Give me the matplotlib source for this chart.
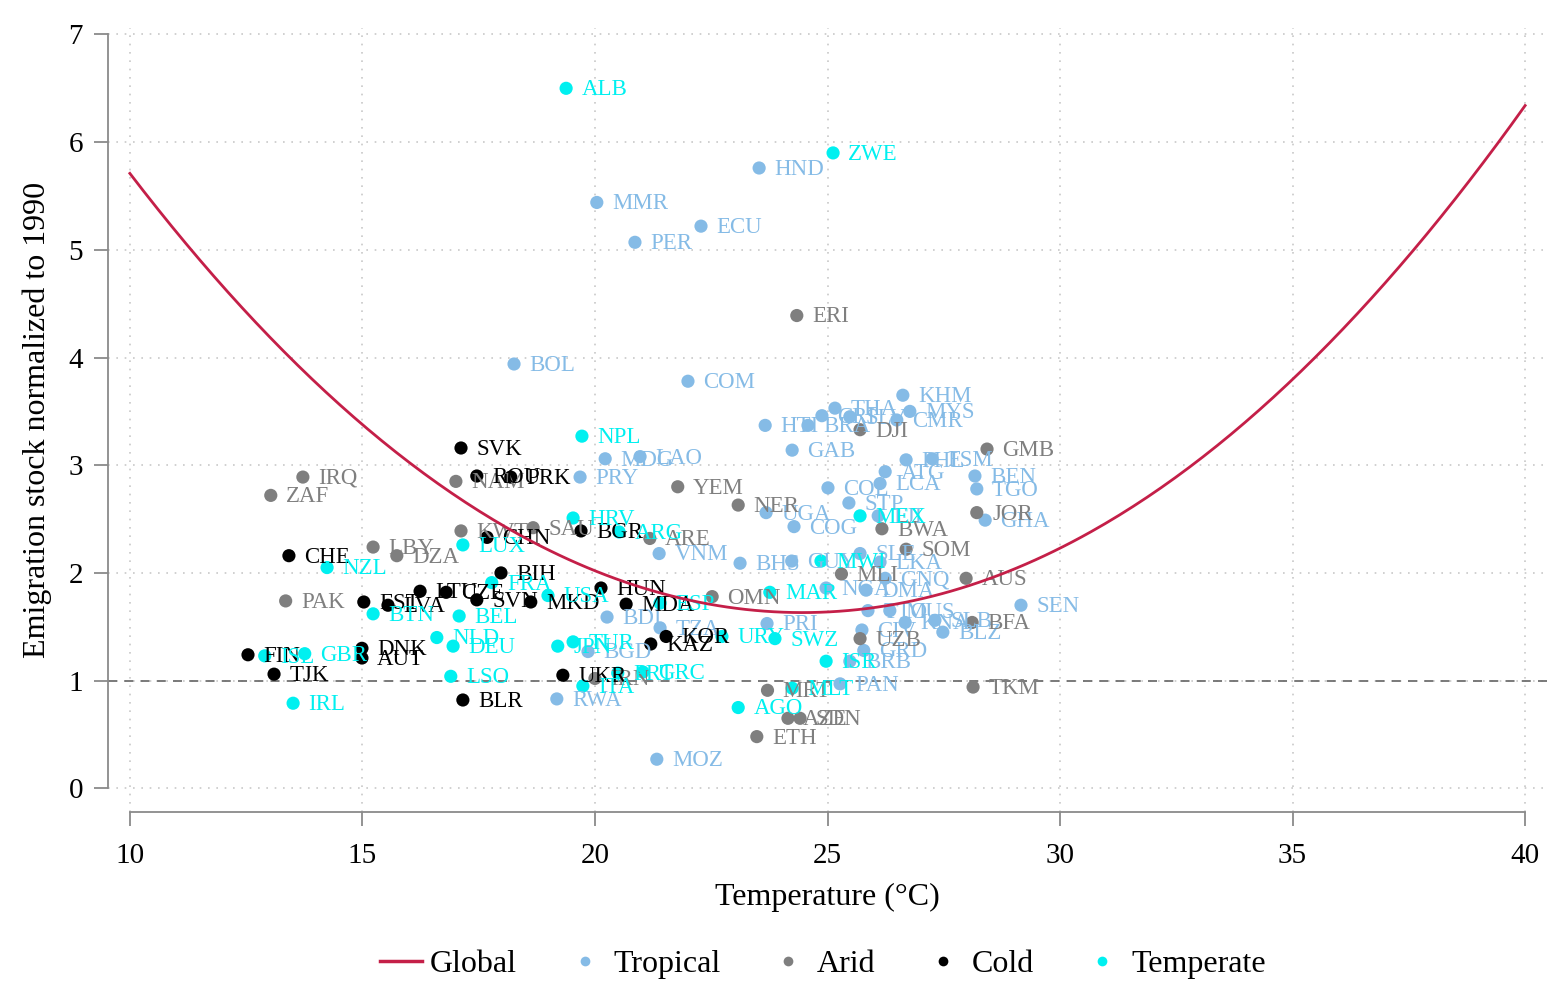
# Emigration stock vs temperature, by climate zone
import numpy as np
import matplotlib.pyplot as plt
from matplotlib.lines import Line2D

plt.rcParams['font.family'] = ['Liberation Serif', 'DejaVu Serif']

# Tropical countries
trop_names = ["HND", "MMR", "ECU", "PER", "BOL", "COM", "KHM", "MYS", "THA", "HTI",
              "BRA", "CRI", "SLV", "CMR", "GAB", "MDG", "LAO", "PRY", "PHL", "FSM",
              "BEN", "TGO", "GHA", "ATG", "LCA", "COL", "STP", "UGA", "COG", "VNM",
              "BHS", "GUY", "SLE", "LKA", "FJI", "DMA", "GNQ", "NGA", "TTO", "MUS",
              "KNA", "SLB", "BLZ", "CIV", "GRD", "BRB", "PAN", "PRI", "SEN", "MOZ",
              "RWA", "TZA", "BDI", "BGD"]
trop_temp = [23.53, 20.04, 22.28, 20.86, 18.26, 22.00, 26.62, 26.77, 25.16, 23.66,
             24.58, 24.88, 25.48, 26.49, 24.24, 20.22, 20.97, 19.68, 26.69, 27.25,
             28.17, 28.21, 28.39, 26.24, 26.13, 25.01, 25.46, 23.68, 24.28, 21.38,
             23.12, 24.23, 25.70, 26.13, 26.09, 25.83, 26.24, 24.97, 25.87, 26.34,
             26.67, 27.31, 27.48, 25.74, 25.78, 25.48, 25.27, 23.70, 29.16, 21.33,
             19.18, 21.40, 20.26, 19.85]
trop_val = [5.76, 5.44, 5.22, 5.07, 3.94, 3.78, 3.65, 3.50, 3.53, 3.37,
            3.37, 3.46, 3.45, 3.42, 3.14, 3.06, 3.08, 2.89, 3.05, 3.06,
            2.90, 2.78, 2.49, 2.94, 2.83, 2.79, 2.65, 2.56, 2.43, 2.18,
            2.09, 2.11, 2.18, 2.10, 2.53, 1.84, 1.95, 1.86, 1.65, 1.65,
            1.54, 1.56, 1.45, 1.47, 1.28, 1.18, 0.97, 1.53, 1.70, 0.27,
            0.83, 1.49, 1.59, 1.27]

# Arid countries
arid_names = ["IRQ", "ZAF", "PAK", "LBY", "DZA", "NAM", "KWT", "SAU", "ARE", "YEM",
              "NER", "OMN", "ERI", "DJI", "BWA", "SOM", "MLI", "AUS", "JOR", "GMB",
              "BFA", "UZB", "TKM", "MRT", "AZE", "SDN", "ETH", "IRN"]
arid_temp = [13.72, 13.03, 13.35, 15.23, 15.74, 17.01, 17.12, 18.67, 21.18, 21.78,
             23.08, 22.52, 24.34, 25.70, 26.17, 26.69, 25.30, 27.98, 28.21, 28.43,
             28.11, 25.70, 28.13, 23.71, 24.15, 24.41, 23.48, 20.00]
arid_val = [2.89, 2.72, 1.74, 2.24, 2.16, 2.85, 2.39, 2.42, 2.32, 2.80,
            2.63, 1.78, 4.39, 3.33, 2.41, 2.22, 1.99, 1.95, 2.56, 3.15,
            1.54, 1.39, 0.94, 0.91, 0.65, 0.65, 0.48, 1.02]

# Cold countries
cold_names = ["SVK", "ROU", "PRK", "CHN", "BGR", "CHE", "BIH", "LTU", "CZE", "EST",
              "LVA", "SVN", "MKD", "HUN", "MDA", "KOR", "KAZ", "DNK", "AUT", "FIN",
              "TJK", "BLR", "UKR"]
cold_temp = [17.12, 17.46, 18.19, 17.68, 19.70, 13.42, 17.98, 16.24, 16.80, 15.03,
             15.55, 17.46, 18.62, 20.13, 20.67, 21.53, 21.20, 14.99, 14.99, 12.54,
             13.10, 17.16, 19.31]
cold_val = [3.16, 2.90, 2.89, 2.33, 2.39, 2.16, 2.00, 1.83, 1.82, 1.73,
            1.70, 1.75, 1.73, 1.86, 1.71, 1.41, 1.34, 1.30, 1.21, 1.24,
            1.06, 0.82, 1.05]

# Temperate countries
temp_names = ["ALB", "ZWE", "NPL", "HRV", "ARG", "LUX", "NZL", "FRA", "BTN", "USA",
              "ESP", "MAR", "MEX", "MWI", "URY", "SWZ", "ISR", "MLT", "AGO", "JPN",
              "TUR", "ITA", "PRT", "GRC", "LSO", "DEU", "NLD", "BEL", "ISL", "GBR",
              "IRL"]
temp_temp = [19.38, 25.12, 19.72, 19.53, 20.52, 17.16, 14.24, 17.78, 15.23, 18.99,
             21.40, 23.76, 25.70, 24.86, 22.73, 23.87, 24.97, 24.24, 23.08, 19.20,
             19.53, 19.74, 20.49, 21.03, 16.90, 16.95, 16.60, 17.08, 12.90, 13.76,
             13.51]
temp_val = [6.50, 5.90, 3.27, 2.51, 2.38, 2.26, 2.05, 1.91, 1.62, 1.79,
            1.72, 1.82, 2.53, 2.11, 1.41, 1.39, 1.18, 0.93, 0.75, 1.32,
            1.36, 0.95, 1.07, 1.08, 1.04, 1.32, 1.40, 1.60, 1.23, 1.25,
            0.79]

# Global quadratic fit: y = a*T^2 + b*T + c
fit_coef = [0.0195, -0.954, 13.30]

groups = [
    ("Tropical", trop_names, trop_temp, trop_val, "#85bbe6"),
    ("Arid", arid_names, arid_temp, arid_val, "#7f7f7f"),
    ("Cold", cold_names, cold_temp, cold_val, "#000000"),
    ("Temperate", temp_names, temp_temp, temp_val, "#00f0f0"),
]

fig = plt.figure(figsize=(15.47, 9.96), dpi=100)
ax = fig.add_axes([108/1547, 1 - 812/996, 1 - 108/1547, (812 - 28)/996])

ax.set_xlim(9.53, 40.47)
ax.set_ylim(-0.22, 7.06)

# grid
for xv in range(10, 45, 5):
    ax.axvline(xv, color="#c8c8c8", lw=1.2, ls=(0, (1, 4)), zorder=0)
for yv in range(0, 8):
    ax.axhline(yv, color="#c8c8c8", lw=1.2, ls=(0, (1, 4)), zorder=0)
ax.axhline(1, color="#707070", lw=1.3, ls=(0, (5, 4)), zorder=1)

for label, names, tx, ty, col in groups:
    ax.scatter(tx, ty, s=90, color=col, edgecolors="none", zorder=3)
    for n, x, y in zip(names, tx, ty):
        ax.annotate(n, (x, y), xytext=(11, -1), textcoords="offset points",
                    ha="left", va="center", fontsize=16.5, color=col, zorder=4)

tt = np.linspace(10, 40, 300)
ax.plot(tt, np.polyval(fit_coef, tt), color="#c41f48", lw=2, zorder=5)

for s in ["top", "right"]:
    ax.spines[s].set_visible(False)
ax.spines["left"].set_bounds(0, 7)
ax.spines["bottom"].set_bounds(10, 40)
for s in ["left", "bottom"]:
    ax.spines[s].set_color("#8a8a8a")
    ax.spines[s].set_linewidth(1.3)
ax.set_xticks(range(10, 45, 5))
ax.set_yticks(range(0, 8))
ax.tick_params(axis="both", colors="#8a8a8a", length=10, width=1.3,
               labelsize=21, labelcolor="black")
ax.tick_params(axis="y", pad=8)
ax.tick_params(axis="x", pad=12)
ax.set_xlabel("Temperature (°C)", fontsize=23, labelpad=10)
ax.set_ylabel("Emigration stock normalized to 1990", fontsize=23, labelpad=12)

handles = [Line2D([0], [0], color="#c41f48", lw=2.5, label="Global")]
for label, names, tx, ty, col in groups:
    handles.append(Line2D([0], [0], ls="none", marker="o", markersize=7,
                          markerfacecolor=col, markeredgecolor="none", label=label))
fig.legend(handles=handles, loc="lower center", bbox_to_anchor=(0.532, -0.012),
           ncol=5, frameon=False, fontsize=23, handlelength=1.3,
           columnspacing=1.47, handletextpad=0.25)

plt.savefig("out.png", dpi=100)
